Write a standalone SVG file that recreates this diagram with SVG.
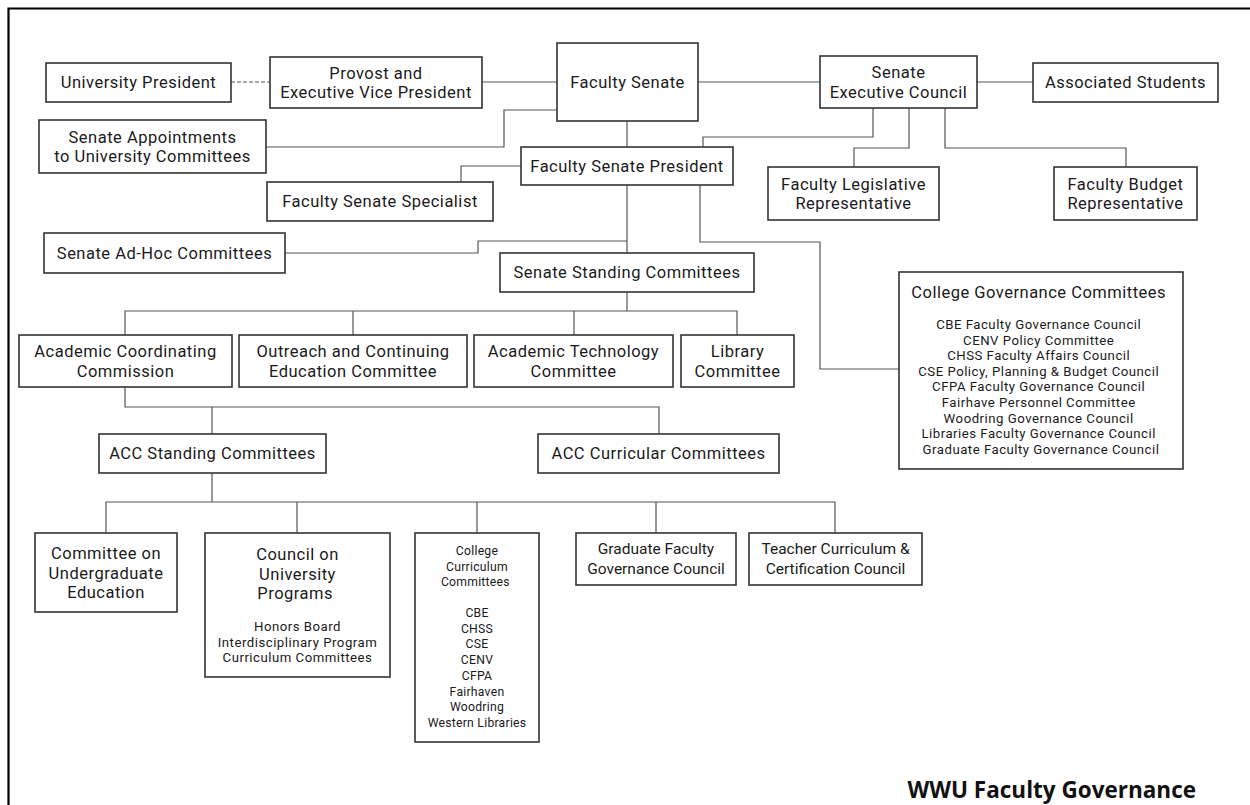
<svg xmlns="http://www.w3.org/2000/svg" width="1250" height="805" viewBox="0 0 1250 805">
<style>
.box{fill:#fff;stroke:#333;stroke-width:1.6}
.t{font-family:Roboto,"Noto Sans",sans-serif;font-size:16.5px;letter-spacing:0.5px;fill:#1a1a1a;text-anchor:middle;dominant-baseline:central}
.m{font-size:15.5px;letter-spacing:0}
.s{font-size:13.2px;letter-spacing:0.5px}
.x{font-size:12.2px;letter-spacing:0.25px}
.c{fill:none;stroke:#555;stroke-width:1.2}
.title{font-family:"Open Sans","Noto Sans",sans-serif;font-size:22.5px;font-weight:bold;fill:#111;text-anchor:end}
</style>
<rect width="1250" height="805" fill="#fff"/>
<path d="M1250,8.5 H8.5 V805" fill="none" stroke="#000" stroke-width="2.2"/>
<g id="connectors">
<path class="c" d="M231,82 H270" stroke-dasharray="4,2"/>
<path class="c" d="M482,82 H557"/>
<path class="c" d="M698,82 H820"/>
<path class="c" d="M977,82 H1033"/>
<path class="c" d="M266,147 H504 V110 H557"/>
<path class="c" d="M627,121 V147"/>
<path class="c" d="M521,166 H461 V182"/>
<path class="c" d="M703,147 V137 H873 V108"/>
<path class="c" d="M909,108 V148 H854 V167"/>
<path class="c" d="M945,108 V148 H1126 V167"/>
<path class="c" d="M627,185 V253"/>
<path class="c" d="M285,253 H478 V241 H627"/>
<path class="c" d="M700,185 V242 H820 V369 H899" stroke="#777"/>
<path class="c" d="M627,292 V311"/>
<path class="c" d="M125,335 V311 H737 V335"/>
<path class="c" d="M353,311 V335"/>
<path class="c" d="M574,311 V335"/>
<path class="c" d="M125,387 V407 H659 V434"/>
<path class="c" d="M212,407 V434"/>
<path class="c" d="M212,473 V502"/>
<path class="c" d="M106,533 V502 H835 V533"/>
<path class="c" d="M297,502 V533"/>
<path class="c" d="M477,502 V533"/>
<path class="c" d="M656,502 V533"/>
</g>
<g id="university-president"><rect class="box" x="46" y="63" width="185" height="39"/><text class="t" x="138.5" y="82.5">University President</text></g>
<g id="provost"><rect class="box" x="270" y="57" width="212" height="51"/><text class="t"><tspan x="376" y="72.5">Provost and</tspan><tspan x="376" y="92">Executive Vice President</tspan></text></g>
<g id="faculty-senate"><rect class="box" x="557" y="43" width="141" height="78"/><text class="t" x="627.5" y="82">Faculty Senate</text></g>
<g id="senate-executive-council"><rect class="box" x="820" y="56" width="157" height="52"/><text class="t"><tspan x="898.5" y="72">Senate</tspan><tspan x="898.5" y="91.5">Executive Council</tspan></text></g>
<g id="associated-students"><rect class="box" x="1033" y="63" width="185" height="39"/><text class="t" x="1125.5" y="82.5">Associated Students</text></g>
<g id="senate-appointments"><rect class="box" x="39" y="120" width="227" height="53"/><text class="t"><tspan x="152.5" y="136.5">Senate Appointments</tspan><tspan x="152.5" y="156">to University Committees</tspan></text></g>
<g id="faculty-senate-president"><rect class="box" x="521" y="147" width="212" height="38"/><text class="t" x="627" y="166">Faculty Senate President</text></g>
<g id="faculty-senate-specialist"><rect class="box" x="267" y="182" width="226" height="39"/><text class="t" x="380" y="201.5">Faculty Senate Specialist</text></g>
<g id="faculty-legislative-rep"><rect class="box" x="768" y="167" width="171" height="53"/><text class="t"><tspan x="853.5" y="183.5">Faculty Legislative</tspan><tspan x="853.5" y="203">Representative</tspan></text></g>
<g id="faculty-budget-rep"><rect class="box" x="1054" y="167" width="143" height="53"/><text class="t"><tspan x="1125.5" y="183.5">Faculty Budget</tspan><tspan x="1125.5" y="203">Representative</tspan></text></g>
<g id="senate-ad-hoc"><rect class="box" x="44" y="233" width="241" height="40"/><text class="t" x="164.5" y="253">Senate Ad-Hoc Committees</text></g>
<g id="senate-standing"><rect class="box" x="500" y="253" width="254" height="39"/><text class="t" x="627" y="272.5">Senate Standing Committees</text></g>
<g id="college-governance"><rect class="box" x="899" y="272" width="284" height="197"/>
<text class="t"><tspan x="1041" y="292">College Governance Committees</tspan>
<tspan class="s" x="1041" y="324">CBE Faculty Governance Council</tspan>
<tspan class="s" x="1041" y="339.6">CENV Policy Committee</tspan>
<tspan class="s" x="1041" y="355.2">CHSS Faculty Affairs Council</tspan>
<tspan class="s" x="1041" y="370.8">CSE Policy, Planning &amp; Budget Council</tspan>
<tspan class="s" x="1041" y="386.4">CFPA Faculty Governance Council</tspan>
<tspan class="s" x="1041" y="402">Fairhave Personnel Committee</tspan>
<tspan class="s" x="1041" y="417.6">Woodring Governance Council</tspan>
<tspan class="s" x="1041" y="433.2">Libraries Faculty Governance Council</tspan>
<tspan class="s" x="1041" y="448.8">Graduate Faculty Governance Council</tspan></text></g>
<g id="academic-coordinating-commission"><rect class="box" x="19" y="335" width="213" height="52"/><text class="t"><tspan x="125.5" y="351.3">Academic Coordinating</tspan><tspan x="125.5" y="370.8">Commission</tspan></text></g>
<g id="outreach"><rect class="box" x="239" y="335" width="228" height="52"/><text class="t"><tspan x="353" y="351.3">Outreach and Continuing</tspan><tspan x="353" y="370.8">Education Committee</tspan></text></g>
<g id="academic-technology"><rect class="box" x="474" y="335" width="199" height="52"/><text class="t"><tspan x="573.5" y="351.3">Academic Technology</tspan><tspan x="573.5" y="370.8">Committee</tspan></text></g>
<g id="library-committee"><rect class="box" x="681" y="335" width="113" height="52"/><text class="t"><tspan x="737.5" y="351.3">Library</tspan><tspan x="737.5" y="370.8">Committee</tspan></text></g>
<g id="acc-standing"><rect class="box" x="99" y="434" width="227" height="39"/><text class="t" x="212.5" y="453.5">ACC Standing Committees</text></g>
<g id="acc-curricular"><rect class="box" x="538" y="434" width="241" height="39"/><text class="t" x="658.5" y="453.5">ACC Curricular Committees</text></g>
<g id="committee-undergraduate"><rect class="box" x="35" y="533" width="142" height="79"/><text class="t"><tspan x="106" y="553">Committee on</tspan><tspan x="106" y="572.5">Undergraduate</tspan><tspan x="106" y="592">Education</tspan></text></g>
<g id="council-university-programs"><rect class="box" x="205" y="533" width="185" height="144"/>
<text class="t"><tspan x="297.5" y="554">Council on</tspan><tspan x="297.5" y="573.5">University</tspan><tspan x="297.5" y="593">Programs</tspan>
<tspan class="s" x="297.5" y="626">Honors Board</tspan><tspan class="s" x="297.5" y="641.6">Interdisciplinary Program</tspan><tspan class="s" x="297.5" y="657.2">Curriculum Committees</tspan></text></g>
<g id="college-curriculum"><rect class="box" x="415" y="533" width="124" height="209"/>
<text class="t x"><tspan x="477" y="551">College</tspan><tspan x="477" y="566.5">Curriculum</tspan><tspan x="477" y="582">Committees</tspan>
<tspan x="477" y="613">CBE</tspan><tspan x="477" y="628.7">CHSS</tspan><tspan x="477" y="644.4">CSE</tspan><tspan x="477" y="660.1">CENV</tspan><tspan x="477" y="675.8">CFPA</tspan><tspan x="477" y="691.5">Fairhaven</tspan><tspan x="477" y="707.2">Woodring</tspan><tspan x="477" y="722.9">Western Libraries</tspan></text></g>
<g id="graduate-faculty"><rect class="box" x="576" y="533" width="160" height="52"/><text class="t m"><tspan x="656" y="549.3">Graduate Faculty</tspan><tspan x="656" y="568.8">Governance Council</tspan></text></g>
<g id="teacher-curriculum"><rect class="box" x="749" y="533" width="173" height="52"/><text class="t m"><tspan x="835.5" y="549.3">Teacher Curriculum &amp;</tspan><tspan x="835.5" y="568.8">Certification Council</tspan></text></g>
<text class="title" x="1196" y="798">WWU Faculty Governance</text>
</svg>
